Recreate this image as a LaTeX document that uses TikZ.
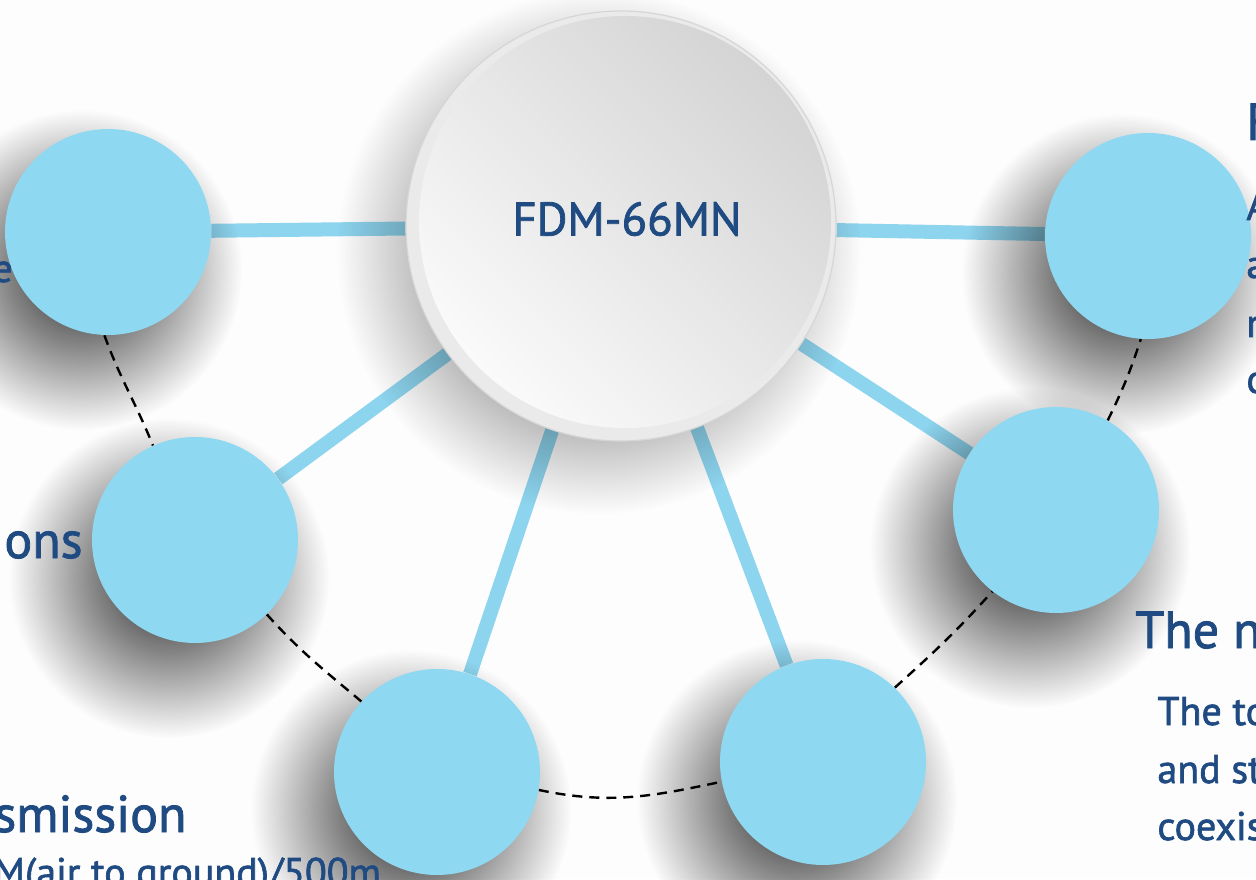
\documentclass[tikz,border=0pt]{standalone}
\usepackage{fontspec}
\setmainfont{PT Sans}[FakeBold=1.6]
\usetikzlibrary{fadings}
\definecolor{bubblefill}{RGB}{143,216,241}
\definecolor{link}{RGB}{141,212,238}
\definecolor{ink}{RGB}{31,75,130}
\definecolor{rim}{RGB}{234,234,234}
\definecolor{rimedge}{RGB}{214,214,214}
\definecolor{hubdark}{RGB}{212,212,212}
\definecolor{hublight}{RGB}{250,250,250}
\definecolor{paper}{RGB}{253,253,253}
\pgfdeclareradialshading{softshade}{\pgfpointorigin}{color(0bp)=(white); color(8bp)=(white); color(25bp)=(black); color(50bp)=(black)}
\pgfdeclarefading{softfade}{\pgfuseshading{softshade}}
\pgfdeclarelayer{background}
\pgfsetlayers{background,main}
\tikzstyle{bubble}=[circle, fill=bubblefill, minimum size=103pt, inner sep=0pt]
\tikzset{connector/.style={line width=7pt, color=link}}
\tikzset{ring/.style={black, dash pattern=on 5pt off 3.5pt, line width=1.2pt}}
\tikzset{softshadow/.style={fill=black, opacity=.6, path fading=softfade}}
\tikzstyle{title}=[anchor=base west, inner sep=0pt, text=ink, font=\fontsize{26}{30}\selectfont]
\tikzstyle{body}=[anchor=base west, inner sep=0pt, text=ink, font=\fontsize{20}{24}\selectfont]

\begin{document}
\begin{tikzpicture}[x=0.5pt,y=0.5pt]
  \useasboundingbox (0,0) rectangle (1256,879);

  %% Hub
  \draw (621,653) node[circle, fill=rim, draw=rimedge, line width=.6pt, minimum size=215pt, inner sep=0pt] (Hub) {};
  \draw (625,657) node[circle, minimum size=206pt, inner sep=0pt, top color=hubdark, bottom color=hublight, shading angle=-45] (HubIn) {};
  \draw (627,660) node[text=ink, font=\fontsize{23.5}{28}\selectfont] (Label) {FDM-66MN};

  %% Satellites
  \draw (108,647) node[bubble] (S1) {};
  \draw (195,339) node[bubble] (S2) {};
  \draw (437,107) node[bubble] (S3) {};
  \draw (823,117) node[bubble] (S4) {};
  \draw (1056,369) node[bubble] (S5) {};
  \draw (1148,643) node[bubble] (S6) {};

  \begin{pgfonlayer}{background}
    \fill[paper] (0,0) rectangle (1256,879);

    \draw[connector] (Hub) -- (S1);
    \draw[connector] (Hub) -- (S2);
    \draw[connector] (Hub) -- (S3);
    \draw[connector] (Hub) -- (S4);
    \draw[connector] (Hub) -- (S5);
    \draw[connector] (Hub) -- (S6);

    \draw[ring] (S1.268) to[out=-70,in=112] (S2.114);
    \draw[ring] (S2.314) to[out=-48,in=140] (S3.137);
    \draw[ring] (S3.350) to[out=-12,in=192] (S4.191);
    \draw[ring] (S4.46) to[out=42,in=228] (S5.232);
    \draw[ring] (S5.60) to[out=64,in=252] (S6.266);

    %% Shadows
    \fill[softshadow, opacity=.55] ([shift={(-22,-26)}]Hub.center) circle (262);
    \foreach \s in {S1,S2,S3,S4,S5,S6}
      \fill[softshadow] ([shift={(-26,-38)}]\s.center) circle (160);
  \end{pgfonlayer}

  %% Texts cut by the edges
  \draw (-8,597) node[body] (T1) {e};
  \draw (4,321) node[title] (T2) {ons};
  \draw (-6,47) node[title] (T3) {smission};
  \draw (-7,-7) node[body] (T4) {M(air to ground)/500m};
  \draw (1246,739) node[title] (T5) {F};
  \draw (1246,659) node[body] (T6) {A};
  \draw (1246,601) node[body] (T7) {a};
  \draw (1246,542) node[body] (T8) {r};
  \draw (1246,486) node[body] (T9) {c};
  \draw (1135,231) node[title] (T10) {The n};
  \draw (1157,154) node[body] (T11) {The to};
  \draw (1157,96) node[body] (T12) {and st};
  \draw (1157,39) node[body] (T13) {coexis};
\end{tikzpicture}
\end{document}
